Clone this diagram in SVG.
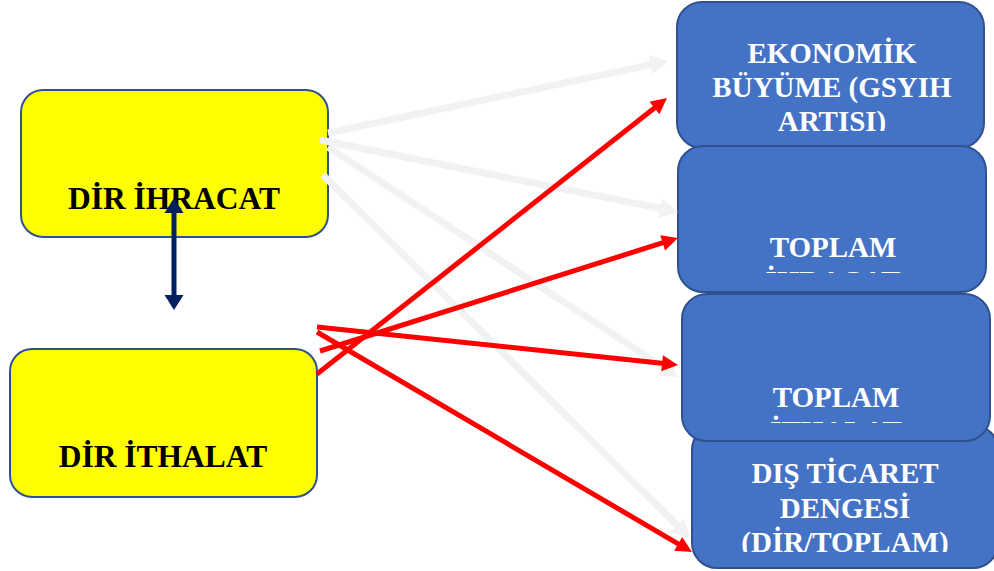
<svg xmlns="http://www.w3.org/2000/svg" width="994" height="571" viewBox="0 0 994 571">
<style>
.yb{fill:#ffff00;stroke:#2f528f;stroke-width:2}
.bb{fill:#4472c4;stroke:#2f528f;stroke-width:2}
.yt{font-family:"Liberation Serif","Times New Roman",serif;font-weight:bold;font-size:31.5px;fill:#000;text-anchor:middle}
.bt{font-family:"Liberation Serif","Times New Roman",serif;font-weight:bold;font-size:29px;fill:#fff;text-anchor:middle}
.gr{stroke:#f2f2f2;stroke-width:7;fill:none;marker-end:url(#mg)}
.rd{stroke:#ff0000;stroke-width:5;fill:none;marker-end:url(#mr)}
.nv{stroke:#002060;stroke-width:5;fill:none;marker-end:url(#mn);marker-start:url(#mn)}
</style>
<defs>
<marker id="mr" markerUnits="userSpaceOnUse" orient="auto" refX="2" refY="0" overflow="visible"><path d="M0,-8 L16,0 L0,8 Z" fill="#ff0000"/></marker>
<marker id="mg" markerUnits="userSpaceOnUse" orient="auto" refX="2" refY="0" overflow="visible"><path d="M0,-10 L18,0 L0,10 Z" fill="#f2f2f2"/></marker>
<marker id="mn" markerUnits="userSpaceOnUse" orient="auto-start-reverse" refX="2" refY="0" overflow="visible"><path d="M0,-9.5 L15,0 L0,9.5 Z" fill="#002060"/></marker>
<clipPath id="c1"><rect x="677" y="2" width="307" height="129"/></clipPath>
<clipPath id="c2"><rect x="678" y="146" width="308" height="127"/></clipPath>
<clipPath id="c3"><rect x="682" y="294" width="308" height="129"/></clipPath>
<clipPath id="c4"><rect x="692" y="425" width="304" height="127"/></clipPath>
</defs>
<rect width="994" height="571" fill="#fff"/>
<g id="dir-ihracat"><rect class="yb" x="21" y="90" width="307" height="147" rx="22"/><text class="yt" x="174" y="209">DİR İHRACAT</text></g>
<g id="dir-ithalat"><rect class="yb" x="10" y="349" width="307" height="148" rx="22"/><text class="yt" x="163" y="467">DİR İTHALAT</text></g>
<g id="ekonomik-buyume"><rect class="bb" x="677" y="2" width="307" height="146" rx="25"/><g clip-path="url(#c1)"><text class="bt" x="832" y="63">EKONOMİK</text><text class="bt" x="832" y="97">BÜYÜME (GSYIH</text><text class="bt" x="832" y="131">ARTISI)</text></g></g>
<g id="toplam-ihracat"><rect class="bb" x="678" y="146" width="308" height="146" rx="25"/><g clip-path="url(#c2)"><text class="bt" x="833" y="257">TOPLAM</text><text class="bt" x="833" y="291">İHRACAT</text></g></g>
<g id="dis-ticaret"><rect class="bb" x="692" y="425" width="306" height="143" rx="25"/><g clip-path="url(#c4)"><text class="bt" x="845" y="483">DIŞ TİCARET</text><text class="bt" x="845" y="518">DENGESİ</text><text class="bt" x="845" y="552">(DİR/TOPLAM)</text></g></g>
<g id="toplam-ithalat"><rect class="bb" x="682" y="294" width="308" height="147" rx="25"/><g clip-path="url(#c3)"><text class="bt" x="836" y="407">TOPLAM</text><text class="bt" x="836" y="441">İTHALAT</text></g></g>
<g id="connectors">
<line class="rd" x1="317" y1="332" x2="679.9" y2="544.9"/>
<line class="gr" x1="328" y1="133" x2="652.3" y2="64.3"/>
<line class="gr" x1="320" y1="140" x2="662.3" y2="208.8"/>
<line class="gr" x1="328" y1="147" x2="664.6" y2="368.2"/>
<line class="gr" x1="323" y1="175" x2="678.6" y2="526.7"/>
<line class="rd" x1="317" y1="327" x2="664.1" y2="363.5"/>
<line class="rd" x1="317" y1="374" x2="656.0" y2="106.7"/>
<line class="rd" x1="320" y1="351" x2="664.6" y2="242.2"/>
<line class="nv" x1="174" y1="211" x2="174" y2="297"/>
</g>
</svg>
